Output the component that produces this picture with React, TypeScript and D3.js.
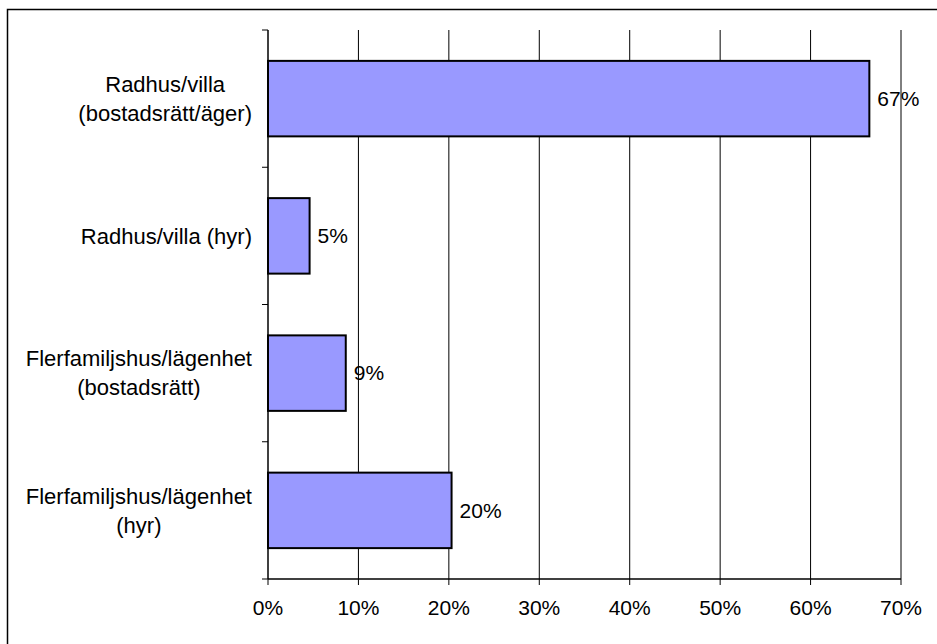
import React from 'react';
import { range, scaleBand, scaleLinear } from 'd3';

const categories = [
  'Radhus/villa\n(bostadsrätt/äger)',
  'Radhus/villa (hyr)',
  'Flerfamiljshus/lägenhet\n(bostadsrätt)',
  'Flerfamiljshus/lägenhet\n(hyr)',
];
const values = [66.5, 4.6, 8.6, 20.3];
const xTicks = range(0, 71, 10);

const FONT = '"Liberation Sans", Arial, sans-serif';
const FONT_SIZE = 21;
const CAT_FONT_SIZE = 22;

let measureCtx: CanvasRenderingContext2D | null = null;
function textWidth(text: string) {
  if (!measureCtx) {
    measureCtx = document.createElement('canvas').getContext('2d');
  }
  if (!measureCtx) return text.length * CAT_FONT_SIZE * 0.5;
  measureCtx.font = `${CAT_FONT_SIZE}px ${FONT}`;
  return measureCtx.measureText(text).width;
}

export default function App() {
  const width = 937;
  const height = 644;
  const plot = { left: 268, right: 901, top: 30, bottom: 579 };

  const x = scaleLinear().domain([0, 70]).range([plot.left, plot.right]);
  const y = scaleBand<string>()
    .domain(categories)
    .range([plot.top, plot.bottom])
    .paddingInner(0.45)
    .paddingOuter(0.225);
  const step = y.step();
  const lineHeight = 29;

  return (
    <div style={{ position: 'fixed', left: 0, top: 0, width, height, background: '#fff' }}>
      <svg width={width} height={height} style={{ display: 'block', fontFamily: FONT }}>
        <rect x={0} y={0} width={width} height={height} fill="#fff" />
        {/* chart frame, runs off the right and bottom edges */}
        <rect x={7.5} y={9.5} width={width + 10} height={height + 10} fill="none" stroke="#000" strokeWidth={1.5} />

        {/* vertical gridlines */}
        {xTicks.slice(1).map((t) => (
          <line key={`g${t}`} x1={x(t)} x2={x(t)} y1={plot.top} y2={plot.bottom} stroke="#000" strokeWidth={1} />
        ))}

        {/* bars */}
        {categories.map((c, i) => (
          <g key={c}>
            <rect
              x={x(0)}
              y={y(c) || 0}
              width={x(values[i]) - x(0)}
              height={y.bandwidth()}
              fill="#9999FF"
              stroke="#000"
              strokeWidth={2}
            />
            <text
              x={x(values[i]) + 8}
              y={(y(c) || 0) + y.bandwidth() / 2}
              dy="0.35em"
              fontSize={FONT_SIZE}
              fill="#000"
            >
              {`${Math.round(values[i])}%`}
            </text>
          </g>
        ))}

        {/* y axis */}
        <line x1={plot.left} x2={plot.left} y1={plot.top} y2={plot.bottom} stroke="#000" strokeWidth={1.5} />
        {range(categories.length + 1).map((k) => {
          const yy = plot.top + k * step;
          return <line key={`yt${k}`} x1={plot.left - 6} x2={plot.left} y1={yy} y2={yy} stroke="#000" strokeWidth={1} />;
        })}
        {categories.map((c) => {
          const lines = c.split('\n');
          const maxW = Math.max(...lines.map(textWidth));
          const cx = plot.left - 16 - maxW / 2;
          const cy = (y(c) || 0) + y.bandwidth() / 2;
          const first = cy - ((lines.length - 1) * lineHeight) / 2;
          return (
            <text key={`l${c}`} textAnchor="middle" fontSize={CAT_FONT_SIZE} fill="#000">
              {lines.map((ln, j) => (
                <tspan key={j} x={cx} y={first + j * lineHeight} dy="0.35em">
                  {ln}
                </tspan>
              ))}
            </text>
          );
        })}

        {/* x axis */}
        <line x1={plot.left} x2={plot.right} y1={plot.bottom} y2={plot.bottom} stroke="#000" strokeWidth={1.5} />
        {xTicks.map((t) => (
          <g key={`xt${t}`}>
            <line x1={x(t)} x2={x(t)} y1={plot.bottom} y2={plot.bottom + 6} stroke="#000" strokeWidth={1} />
            <text x={x(t)} y={plot.bottom + 29} dy="0.35em" textAnchor="middle" fontSize={FONT_SIZE} fill="#000">
              {`${t}%`}
            </text>
          </g>
        ))}
      </svg>
    </div>
  );
}
